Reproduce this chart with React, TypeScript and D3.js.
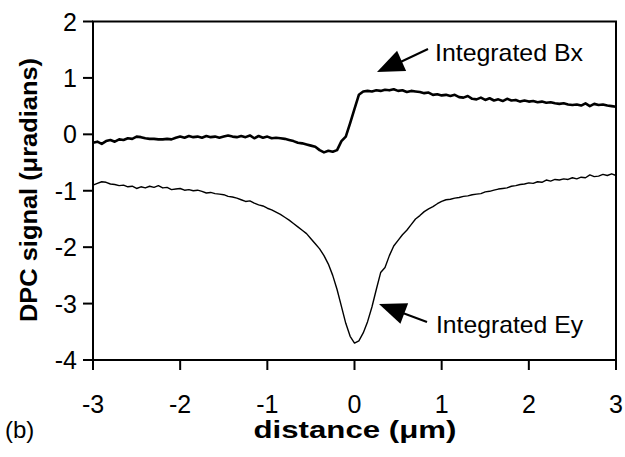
import React from "react";
import * as d3 from "d3";

// distance grid (µm), 0.05 µm spacing from -3 to 3
const distance: number[] = d3.range(121).map((i) => +(-3 + i * 0.05).toFixed(2));

// Integrated Bx (µradians)
const bxValues: number[] = [
  -0.15, -0.13, -0.17, -0.12, -0.10, -0.13, -0.09, -0.10, -0.07, -0.08,
  -0.04, -0.05, -0.07, -0.08, -0.08, -0.09, -0.09, -0.08, -0.09, -0.06,
  -0.04, -0.06, -0.03, -0.05, -0.04, -0.06, -0.03, -0.05, -0.04, -0.06,
  -0.04, -0.02, -0.04, -0.05, -0.03, -0.05, -0.02, -0.07, -0.03, -0.06,
  -0.04, -0.07, -0.06, -0.07, -0.08, -0.10, -0.12, -0.15, -0.16, -0.18,
  -0.20, -0.22, -0.28, -0.32, -0.29, -0.31, -0.28, -0.12, -0.04, 0.20,
  0.45, 0.70, 0.76, 0.77, 0.76, 0.78, 0.77, 0.79, 0.78, 0.80,
  0.77, 0.78, 0.75, 0.77, 0.76, 0.75, 0.73, 0.74, 0.70, 0.71,
  0.69, 0.70, 0.68, 0.70, 0.66, 0.65, 0.68, 0.63, 0.62, 0.65,
  0.61, 0.64, 0.60, 0.62, 0.59, 0.63, 0.60, 0.61, 0.58, 0.60,
  0.58, 0.59, 0.57, 0.58, 0.56, 0.57, 0.55, 0.54, 0.55, 0.53,
  0.52, 0.53, 0.51, 0.55, 0.50, 0.54, 0.52, 0.53, 0.51, 0.50,
  0.49,
];

// Integrated Ey (µradians)
const eyValues: number[] = [
  -0.90, -0.87, -0.84, -0.85, -0.88, -0.89, -0.91, -0.90, -0.93, -0.92,
  -0.96, -0.93, -0.95, -0.92, -0.94, -0.91, -0.95, -0.94, -0.98, -0.97,
  -0.96, -0.99, -0.98, -1.00, -0.99, -1.01, -1.04, -1.03, -1.05, -1.06,
  -1.07, -1.10, -1.11, -1.13, -1.16, -1.19, -1.18, -1.22, -1.25, -1.27,
  -1.31, -1.34, -1.38, -1.42, -1.47, -1.52, -1.58, -1.64, -1.70, -1.76,
  -1.85, -1.94, -2.03, -2.15, -2.30, -2.50, -2.75, -3.05, -3.35, -3.58,
  -3.70, -3.66, -3.52, -3.32, -3.06, -2.75, -2.45, -2.36, -2.15, -1.98,
  -1.88, -1.78, -1.70, -1.60, -1.50, -1.44, -1.37, -1.32, -1.28, -1.23,
  -1.19, -1.16, -1.15, -1.13, -1.12, -1.10, -1.09, -1.07, -1.06, -1.05,
  -1.02, -1.01, -0.99, -0.97, -0.96, -0.95, -0.92, -0.91, -0.89, -0.88,
  -0.86, -0.87, -0.84, -0.85, -0.81, -0.83, -0.80, -0.81, -0.79, -0.80,
  -0.77, -0.79, -0.76, -0.77, -0.72, -0.75, -0.74, -0.71, -0.73, -0.70,
  -0.73,
];

const xTicks: number[] = [-3, -2, -1, 0, 1, 2, 3];
const yTicks: number[] = [2, 1, 0, -1, -2, -3, -4];

const FONT = "'Liberation Sans', Arial, Helvetica, sans-serif";

export default function App() {
  const W = 625;
  const H = 457;
  const left = 93;
  const right = 616;
  const top = 21.5;
  const bottom = 360;

  const x = d3.scaleLinear().domain([-3, 3]).range([left, right]);
  const y = d3.scaleLinear().domain([-4, 2]).range([bottom, top]);

  const mk = (vals: number[]) =>
    d3
      .line<number>()
      .x((_, i) => x(distance[i]))
      .y((v) => y(v))(vals.slice(0, distance.length)) || "";

  const arrowHead = (x1: number, y1: number, x2: number, y2: number, len: number, half: number) => {
    const dx = x2 - x1;
    const dy = y2 - y1;
    const L = Math.hypot(dx, dy);
    const ux = dx / L;
    const uy = dy / L;
    const bx = x2 - ux * len;
    const by = y2 - uy * len;
    const px = -uy * half;
    const py = ux * half;
    return `M${x2},${y2}L${bx + px},${by + py}L${bx - px},${by - py}Z`;
  };

  return (
    <svg
      width={W}
      height={H}
      style={{ position: "absolute", left: 0, top: 0, background: "#fff" }}
      fontFamily={FONT}
    >
      <rect x={0} y={0} width={W} height={H} fill="#fff" />
      {/* data */}
      <path d={mk(eyValues)} fill="none" stroke="#000" strokeWidth={1.4} strokeLinejoin="round" />
      <path d={mk(bxValues)} fill="none" stroke="#000" strokeWidth={2.6} strokeLinejoin="round" />

      {/* frame */}
      <rect
        x={left}
        y={top}
        width={right - left}
        height={bottom - top}
        fill="none"
        stroke="#000"
        strokeWidth={2}
      />
      {/* y ticks */}
      {yTicks.map((t) => (
        <g key={"y" + t}>
          <line x1={left - 10} x2={left} y1={y(t)} y2={y(t)} stroke="#000" strokeWidth={2} />
          <text x={77} y={y(t) + 9} fontSize={25} textAnchor="end" fill="#000">
            {t}
          </text>
        </g>
      ))}
      {/* x ticks */}
      {xTicks.map((t) => (
        <g key={"x" + t}>
          <line x1={x(t)} x2={x(t)} y1={bottom} y2={bottom + 10} stroke="#000" strokeWidth={2} />
          <text x={x(t)} y={413} fontSize={25} textAnchor="middle" fill="#000">
            {t}
          </text>
        </g>
      ))}

      {/* axis titles */}
      <text
        x={355}
        y={438}
        fontSize={24}
        fontWeight="bold"
        textAnchor="middle"
        textLength={203}
        lengthAdjust="spacingAndGlyphs"
      >
        distance (μm)
      </text>
      <text
        transform="translate(37,190) rotate(-90)"
        fontSize={24}
        fontWeight="bold"
        textAnchor="middle"
        textLength={264}
        lengthAdjust="spacingAndGlyphs"
      >
        DPC signal (μradians)
      </text>
      <text x={5} y={438} fontSize={24}>
        (b)
      </text>

      {/* annotations */}
      <line x1={428} y1={49} x2={392} y2={66} stroke="#000" strokeWidth={2} />
      <path d={arrowHead(428, 49, 377, 72, 27, 11)} fill="#000" />
      <text x={435} y={61} fontSize={24} textLength={148} lengthAdjust="spacingAndGlyphs">
        Integrated Bx
      </text>

      <line x1={427} y1={322} x2={392} y2={309} stroke="#000" strokeWidth={2} />
      <path d={arrowHead(427, 322, 379, 304, 27, 11)} fill="#000" />
      <text x={436} y={333} fontSize={24} textLength={147} lengthAdjust="spacingAndGlyphs">
        Integrated Ey
      </text>
    </svg>
  );
}
